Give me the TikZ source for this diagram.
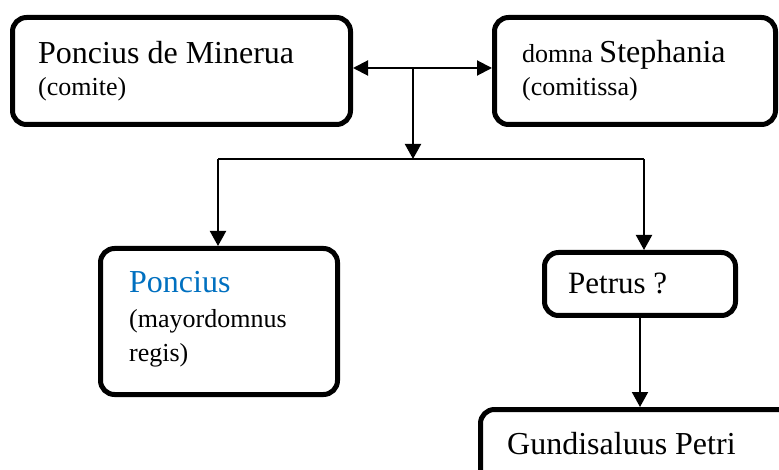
\documentclass[tikz,border=0pt]{standalone}
\usepackage{fontspec}
\setmainfont{Liberation Serif}
\usetikzlibrary{arrows.meta}
\definecolor{nameblue}{HTML}{0070C0}
\tikzset{
  box/.style={draw, line width=5pt, rounded corners=14pt, inner sep=0pt},
  big/.style={anchor=base west, inner sep=0pt, font=\fontsize{32}{34}\selectfont},
  small/.style={anchor=base west, inner sep=0pt, font=\fontsize{26}{30}\selectfont},
  conn/.style={line width=2pt, -{Triangle[length=15pt,width=16pt]}},
  bconn/.style={line width=2pt, {Triangle[length=15pt,width=15pt]}-{Triangle[length=15pt,width=15pt]}},
  plain/.style={line width=1.6pt}
}
\begin{document}
\begin{tikzpicture}[x=1pt,y=-1pt]
\clip (0,0) rectangle (779,470);
\fill[white] (0,0) rectangle (779,470);
% boxes
\node[box, minimum width=338pt, minimum height=107pt] (b1) at (181.5,71) {};
\node[box, minimum width=281pt, minimum height=107pt] (b2) at (635,71) {};
\node[box, minimum width=237pt, minimum height=146pt] (b3) at (219,321.5) {};
\node[box, minimum width=191pt, minimum height=63pt] (b4) at (640,284) {};
\node[box, minimum width=340pt, minimum height=110pt] (b5) at (650.5,464.5) {};
% texts
\node[big] (t1a) at (38,64) {Poncius de Minerua};
\node[small] (t1b) at (38,96) {(comite)};
\node[small] (t2a) at (522,63) {domna \fontsize{32}{34}\selectfont Stephania};
\node[small] (t2b) at (522,96) {(comitissa)};
\node[big, text=nameblue] (t3a) at (129,293) {Poncius};
\node[small] (t3b) at (129,327) {(mayordomnus};
\node[small] (t3c) at (129,361) {regis)};
\node[big, font=\fontsize{31}{34}\selectfont] (t4) at (568,294) {Petrus ?};
\node[big] (t5) at (507,454) {Gundisaluus Petri};
% junctions
\coordinate (j) at (413,68);
\coordinate (h) at (413,159);
\coordinate (hl) at (218,159);
\coordinate (hr) at (644,159);
% connectors
\draw[bconn] (b1.east |- j) -- (b2.west |- j);
\draw[conn] (j) -- (h);
\draw[plain] (hl) -- (hr);
\draw[conn] (hl) -- (hl |- b3.north);
\draw[conn] (hr) -- (hr |- b4.north);
\draw[conn] (b4.south) -- (b4.south |- b5.north);
\end{tikzpicture}
\end{document}
